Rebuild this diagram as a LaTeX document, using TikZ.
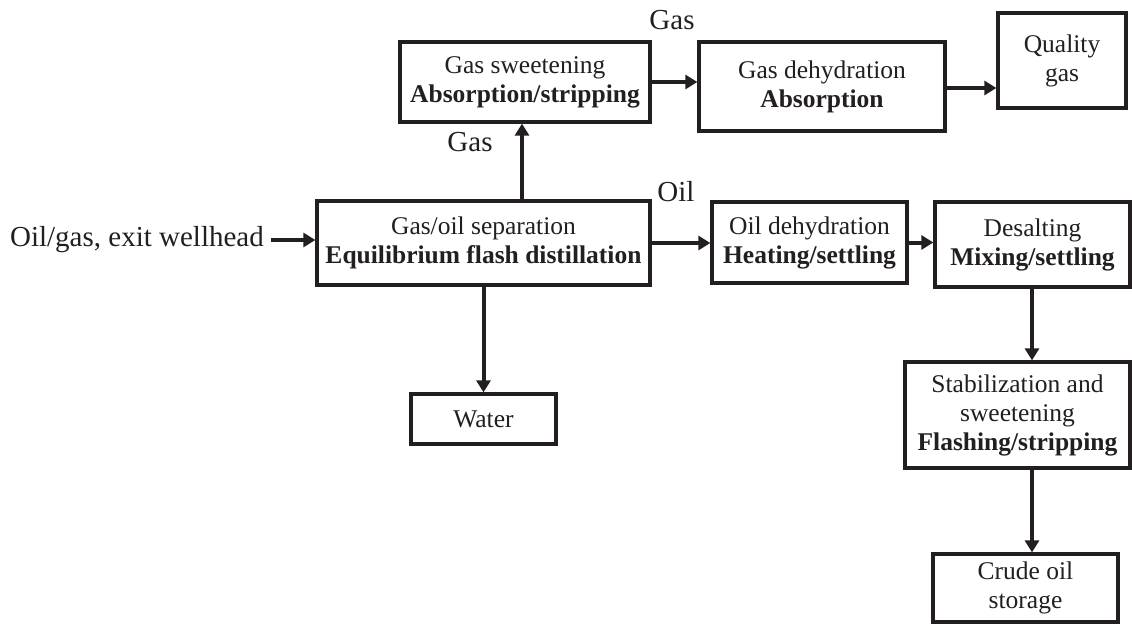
\documentclass[tikz,border=0pt]{standalone}
\usepackage{fontspec}
\setmainfont{Liberation Serif}
\usetikzlibrary{arrows.meta}
\definecolor{ink}{HTML}{231F20}
\begin{document}
\begin{tikzpicture}[x=1pt,y=-1pt,
  box/.style={draw=ink, line width=3.3pt, text=ink, align=center, inner sep=0pt,
              font=\fontsize{25.5}{29}\selectfont},
  lbl/.style={text=ink, inner sep=0pt, font=\fontsize{29}{33}\selectfont},
  arr/.style={draw=ink, line width=4pt, -{Triangle[length=12pt,width=14pt]}}]
\useasboundingbox (0,0) rectangle (1132,627);
\fill[white] (0,0) rectangle (1132,627);

% boxes
\node[box, minimum width=250pt, minimum height=80pt] (sweet) at (525,82)
  {Gas sweetening\\\textbf{Absorption/stripping}};
\node[box, minimum width=246pt, minimum height=89pt] (gdehyd) at (822,86.5)
  {Gas dehydration\\\textbf{Absorption}};
\node[box, minimum width=128pt, minimum height=95pt] (quality) at (1062,60.5)
  {Quality\\gas};
\node[box, minimum width=333pt, minimum height=84pt] (sep) at (483.5,243)
  {Gas/oil separation\\\textbf{Equilibrium flash distillation}};
\node[box, minimum width=195pt, minimum height=81pt] (odehyd) at (809.5,242.5)
  {Oil dehydration\\\textbf{Heating/settling}};
\node[box, minimum width=195pt, minimum height=85pt] (desalt) at (1032.5,244.5)
  {Desalting\\\textbf{Mixing/settling}};
\node[box, minimum width=225pt, minimum height=106pt] (stab) at (1017.5,415)
  {Stabilization and\\sweetening\\\textbf{Flashing/stripping}};
\node[box, minimum width=185pt, minimum height=68pt] (crude) at (1025.5,588)
  {Crude oil\\storage};
\node[box, minimum width=145pt, minimum height=50pt] (water) at (483.5,419)
  {Water};

% labels
\node[lbl, anchor=east] (inlabel) at (264,240) {Oil/gas, exit wellhead};
\node[lbl] (gastop) at (672,20) {Gas};
\node[lbl] (gasleft) at (470,142) {Gas};
\node[lbl] (oil) at (676,192) {Oil};

% connectors
\coordinate (upx) at (522,0);
\coordinate (downx) at (1032,0);
\draw[arr] ([xshift=7pt]inlabel.east) -- (inlabel.east -| sep.west);
\draw[arr] (sep.north -| upx) -- (sweet.south -| upx);
\draw[arr] (sweet.east) -- (sweet.east -| gdehyd.west);
\draw[arr] ([yshift=-1.5pt]gdehyd.east) -- ([yshift=-1.5pt]gdehyd.east -| quality.west);
\draw[arr] (sep.east) -- (sep.east -| odehyd.west);
\draw[arr] (odehyd.east) -- (odehyd.east -| desalt.west);
\draw[arr] (desalt.south -| downx) -- (stab.north -| downx);
\draw[arr] (stab.south -| downx) -- (crude.north -| downx);
\draw[arr] (sep.south -| water.north) -- (water.north);
\end{tikzpicture}
\end{document}
